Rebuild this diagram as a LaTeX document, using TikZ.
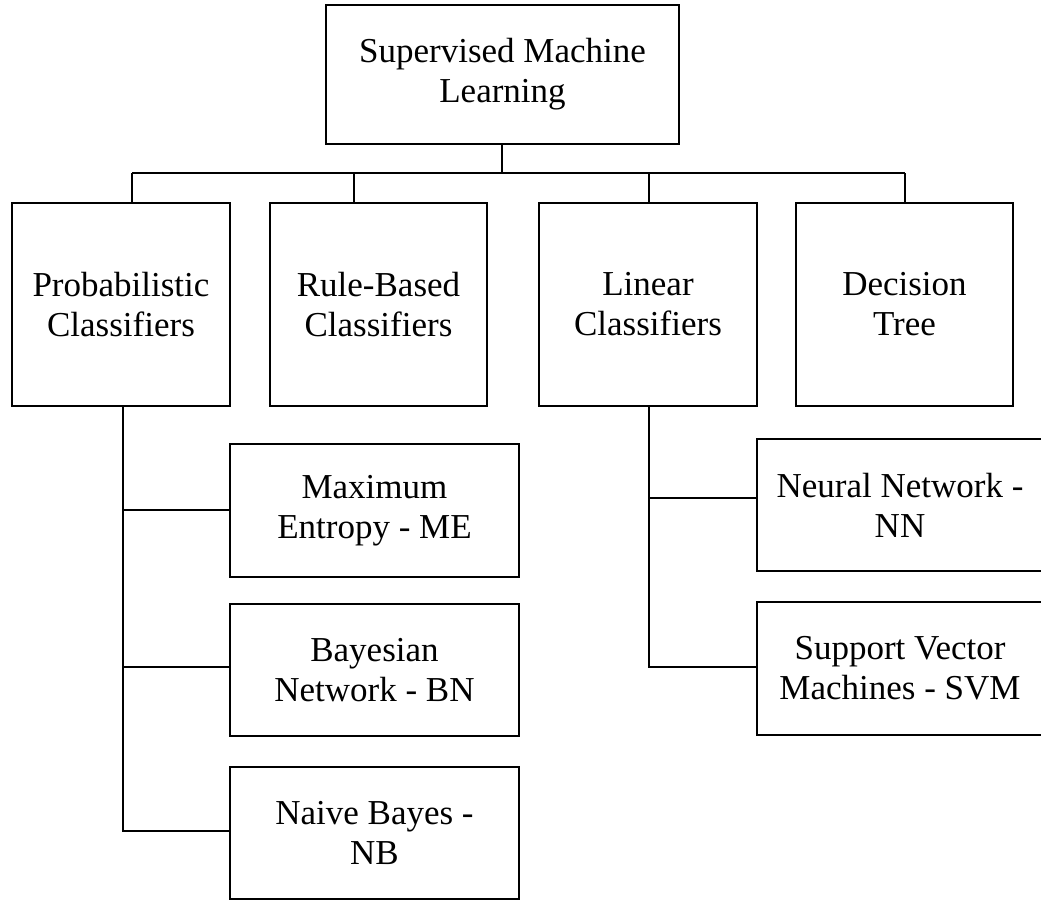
\documentclass[tikz,border=0pt]{standalone}
\usepackage{fontspec}
\setmainfont{Liberation Serif}
\begin{document}
\begin{tikzpicture}[x=1pt,y=-1pt,
  box/.style={draw=black, line width=2pt, rectangle, inner sep=0pt, align=center,
    font=\fontsize{35}{40}\selectfont},
  conn/.style={draw=black, line width=1.8pt}]
\useasboundingbox (0,0) rectangle (1041,900);
\fill[white] (0,0) rectangle (1041,900);
% top
\node[box, minimum width=353pt, minimum height=139pt] (top) at (502.5,74.5) {Supervised Machine\\Learning};
% level 1
\node[box, minimum width=218pt, minimum height=203pt] (prob) at (121,304.5) {Probabilistic\\Classifiers};
\node[box, minimum width=217pt, minimum height=203pt] (rule) at (378.5,304.5) {Rule-Based\\Classifiers};
\node[box, minimum width=218pt, minimum height=203pt] (lin) at (648,304.5) {Linear\\Classifiers};
\node[box, minimum width=217pt, minimum height=203pt] (dec) at (904.5,304.5) {Decision\\Tree};
% level 2 left
\node[box, minimum width=289pt, minimum height=133pt] (me) at (374.5,510.5) {Maximum\\Entropy - ME};
\node[box, minimum width=289pt, minimum height=132pt] (bn) at (374.5,670) {Bayesian\\Network - BN};
\node[box, minimum width=289pt, minimum height=132pt] (nb) at (374.5,833) {Naive Bayes -\\NB};
% level 2 right
\node[box, minimum width=286pt, minimum height=132pt] (nn) at (900,505) {Neural Network -\\NN};
\node[box, minimum width=286pt, minimum height=133pt] (svm) at (900,668.5) {Support Vector\\Machines - SVM};
% bus
\coordinate (bus) at (502,173);
\coordinate (bL) at (132,173);
\coordinate (bR) at (905,173);
\coordinate (d2) at (354,173);
\coordinate (d3) at (649,173);
\draw[conn] (bus |- top.south) -- (bus);
\draw[conn] (bL) -- (bR);
\draw[conn] (bL) -- (bL |- prob.north);
\draw[conn] (d2) -- (d2 |- rule.north);
\draw[conn] (d3) -- (d3 |- lin.north);
\draw[conn] (bR) -- (bR |- dec.north);
% left subtree
\coordinate (pv) at (123,406);
\coordinate (yME) at (0,510);
\coordinate (yBN) at (0,667);
\coordinate (yNB) at (0,831);
\draw[conn] (pv |- prob.south) -- (pv |- yNB) -- (nb.west |- yNB);
\draw[conn] (pv |- yME) -- (me.west |- yME);
\draw[conn] (pv |- yBN) -- (bn.west |- yBN);
% right subtree
\coordinate (lv) at (649,406);
\coordinate (yNN) at (0,498);
\coordinate (ySVM) at (0,667);
\draw[conn] (lv |- lin.south) -- (lv |- ySVM) -- (svm.west |- ySVM);
\draw[conn] (lv |- yNN) -- (nn.west |- yNN);
\end{tikzpicture}
\end{document}
